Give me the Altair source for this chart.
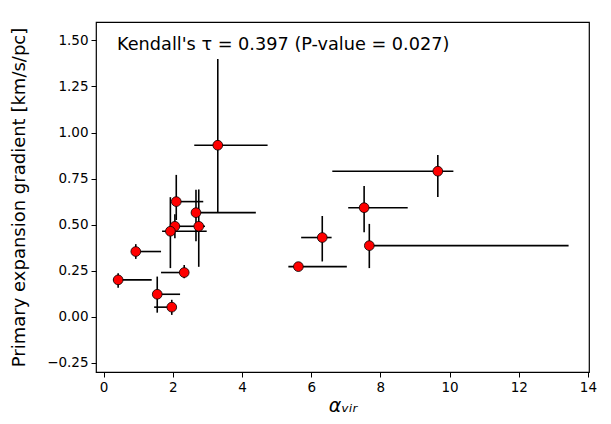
import altair as alt
import pandas as pd

# --- data ---
alpha_vir = [3.30, 2.10, 2.67, 2.06, 2.75, 1.93, 0.93, 2.33, 0.42, 1.55, 1.97, 9.66, 7.53, 6.32, 7.68, 5.63]
gradient = [0.931, 0.625, 0.565, 0.491, 0.491, 0.464, 0.354, 0.240, 0.200, 0.122, 0.052, 0.790, 0.592, 0.430, 0.386, 0.272]
alpha_err_lo = [0.68, 0.10, 0.13, 0.07, 0.10, 0.24, 0.05, 0.67, 0.14, 0.05, 0.51, 3.05, 0.46, 0.61, 0.05, 0.29]
alpha_err_hi = [1.44, 0.78, 1.73, 0.60, 0.18, 1.05, 0.73, 0.05, 0.97, 0.66, 0.05, 0.45, 1.26, 0.27, 5.76, 1.40]
grad_err_lo = [0.366, 0.100, 0.155, 0.065, 0.220, 0.200, 0.040, 0.031, 0.042, 0.100, 0.042, 0.140, 0.133, 0.130, 0.122, 0.010]
grad_err_hi = [0.468, 0.145, 0.125, 0.065, 0.200, 0.185, 0.040, 0.041, 0.036, 0.096, 0.040, 0.088, 0.118, 0.117, 0.118, 0.010]

x_ticks = [0, 2, 4, 6, 8, 10, 12, 14]
y_ticks = [-0.25, 0.0, 0.25, 0.5, 0.75, 1.0, 1.25, 1.5]
annotation = "Kendall's \u03c4 = 0.397 (P-value = 0.027)"

df = pd.DataFrame({
    "x": alpha_vir,
    "y": gradient,
    "x_lo": [a - e for a, e in zip(alpha_vir, alpha_err_lo)],
    "x_hi": [a + e for a, e in zip(alpha_vir, alpha_err_hi)],
    "y_lo": [g - e for g, e in zip(gradient, grad_err_lo)],
    "y_hi": [g + e for g, e in zip(gradient, grad_err_hi)],
})

FONT = "DejaVu Sans"
xs = alt.Scale(domain=[-0.22, 14.03], nice=False, zero=False)
ys = alt.Scale(domain=[-0.30, 1.60], nice=False, zero=False)

x_axis = alt.Axis(title="\u03b1\u1d65\u1d62\u1d63", values=x_ticks, format="d", grid=False,
                  titleFontStyle="italic", titleFontSize=19, titlePadding=3)
y_axis = alt.Axis(title="Primary expansion gradient [km/s/pc]", values=y_ticks, format=".2f",
                  grid=False, titleFontSize=18, titlePadding=18)

base = alt.Chart(df)

hbar = base.mark_rule(color="black", strokeWidth=1.6).encode(
    x=alt.X("x_lo:Q", scale=xs, axis=x_axis),
    x2="x_hi:Q",
    y=alt.Y("y:Q", scale=ys, axis=y_axis),
)
vbar = base.mark_rule(color="black", strokeWidth=1.6).encode(
    x=alt.X("x:Q", scale=xs),
    y=alt.Y("y_lo:Q", scale=ys),
    y2="y_hi:Q",
)
pts = base.mark_point(shape="circle", filled=True, fill="red", stroke="black",
                      strokeWidth=0.8, size=95, opacity=1).encode(
    x=alt.X("x:Q", scale=xs),
    y=alt.Y("y:Q", scale=ys),
)
txt = alt.Chart(pd.DataFrame({"t": [annotation]})).mark_text(
    align="left", baseline="middle", fontSize=17.7, font=FONT, color="black"
).encode(x=alt.value(21), y=alt.value(23), text="t:N")

chart = alt.layer(hbar, vbar, pts, txt).properties(
    width=493, height=350,
    autosize="none",
    padding={"left": 88, "top": 14, "right": 14, "bottom": 44},
).configure_view(
    stroke="black", strokeWidth=1.2
).configure_axis(
    domain=False, tickColor="black", tickSize=5, tickWidth=1,
    labelFont=FONT, labelFontSize=13.5, labelColor="black", labelPadding=3,
    titleFont=FONT, titleFontWeight="normal", titleColor="black",
)

chart.save("out.html", embed_options={"renderer": "svg", "actions": False})
